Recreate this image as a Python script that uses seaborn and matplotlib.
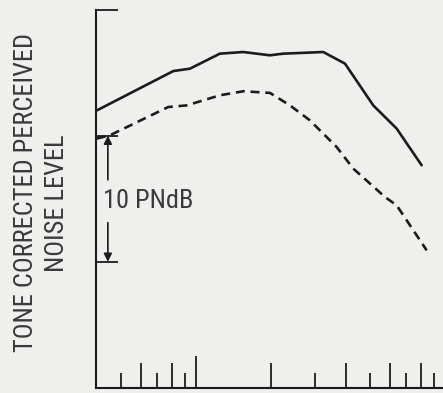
import pandas as pd
import matplotlib
matplotlib.use("Agg")
import matplotlib.pyplot as plt
import seaborn as sns

# ── data (x on a log scale, y in PNdB above an arbitrary zero) ──
solid_x = [0.40, 0.811, 0.946, 1.248, 1.549, 1.982, 2.242, 3.245, 3.967, 5.152, 6.397, 8.06]
solid_y = [22.0, 25.12, 25.31, 26.50, 26.63, 26.37, 26.50, 26.63, 25.71, 22.40, 20.56, 17.65]

dashed_x = [0.40, 0.4515, 0.774, 0.918, 1.248, 1.549, 1.982, 2.385, 2.87, 3.673, 4.282, 5.741, 6.397, 8.443]
dashed_y = [19.77, 20.03, 22.27, 22.40, 23.20, 23.52, 23.39, 22.40, 21.21, 19.10, 17.39, 15.14, 14.48, 10.91]

long_ticks = [0.6, 0.8, 2, 4, 6, 8, 10]
short_ticks = [0.5, 0.7, 0.9, 3, 5, 7, 9]
cap_ticks = [10, 20, 30]
scale_lo, scale_hi = 10, 20

BG = "#efefed"
INK = "#1c1c1c"
TXT = "#3a3a3a"

sns.set_theme(style="ticks")
plt.rcParams.update({
    "figure.facecolor": BG,
    "axes.facecolor": BG,
    "axes.edgecolor": INK,
    "xtick.color": INK,
    "ytick.color": INK,
})
plt.rcParams["font.family"] = ["Roboto Condensed", "DejaVu Sans"]

df = pd.concat([
    pd.DataFrame({"x": solid_x, "y": solid_y, "curve": "solid"}),
    pd.DataFrame({"x": dashed_x, "y": dashed_y, "curve": "dashed"}),
])

fig = plt.figure(figsize=(4.43, 3.93), dpi=100)
ax = fig.add_axes([96 / 443, 5 / 393, 349 / 443, 378.5 / 393])

sns.lineplot(data=df, x="x", y="y", hue="curve", style="curve",
             palette={"solid": INK, "dashed": INK},
             dashes={"solid": "", "dashed": (3.4, 2.2)},
             lw=1.9, legend=False, ax=ax, sort=False)

ax.set_xscale("log")
ax.set_xlim(0.397, 10.0)
ax.set_ylim(0, 30)

sns.despine(ax=ax)
for s in ("left", "bottom"):
    ax.spines[s].set_linewidth(1.5)

# x ticks: one tall decade tick, long even ticks, short odd ticks
ax.set_xticks([1])
ax.set_xticks(long_ticks, minor=True)
ax.tick_params(axis="x", which="major", direction="in", length=23, width=1.3, labelbottom=False)
ax.tick_params(axis="x", which="minor", direction="in", length=18, width=1.3, labelbottom=False)
sec = ax.secondary_xaxis("bottom")
sec.set_xticks(short_ticks)
sec.set_xticks([], minor=True)
sec.tick_params(axis="x", direction="in", length=11, width=1.3, labelbottom=False, color=INK)
sec.spines["bottom"].set_visible(False)

# y ticks are the short caps at the top and around the scale bar
ax.set_yticks(cap_ticks)
ax.set_yticks([], minor=True)
ax.tick_params(axis="y", direction="in", length=16, width=1.3, labelleft=False)
ax.set_xlabel("")
ax.set_ylabel("")

# 10 PNdB scale bar
trans = ax.get_yaxis_transform()
arrow = dict(arrowstyle="-|>", color=INK, lw=1.2, mutation_scale=12, shrinkA=0, shrinkB=0)
ax.annotate("", xy=(0.034, scale_hi), xytext=(0.034, 16.5), xycoords=trans, textcoords=trans, arrowprops=arrow)
ax.annotate("", xy=(0.034, scale_lo), xytext=(0.034, 13.1), xycoords=trans, textcoords=trans, arrowprops=arrow)
ax.text(0.02, 14.8, "10 PNdB", transform=trans, ha="left", va="center", fontsize=19, color=TXT)

fig.text(0.059, 0.510, "TONE CORRECTED PERCEIVED", rotation=90, ha="center", va="center",
         fontsize=19, color=TXT)
fig.text(0.129, 0.482, "NOISE LEVEL", rotation=90, ha="center", va="center",
         fontsize=19, color=TXT)

fig.savefig("out.png", dpi=100, facecolor=BG)
